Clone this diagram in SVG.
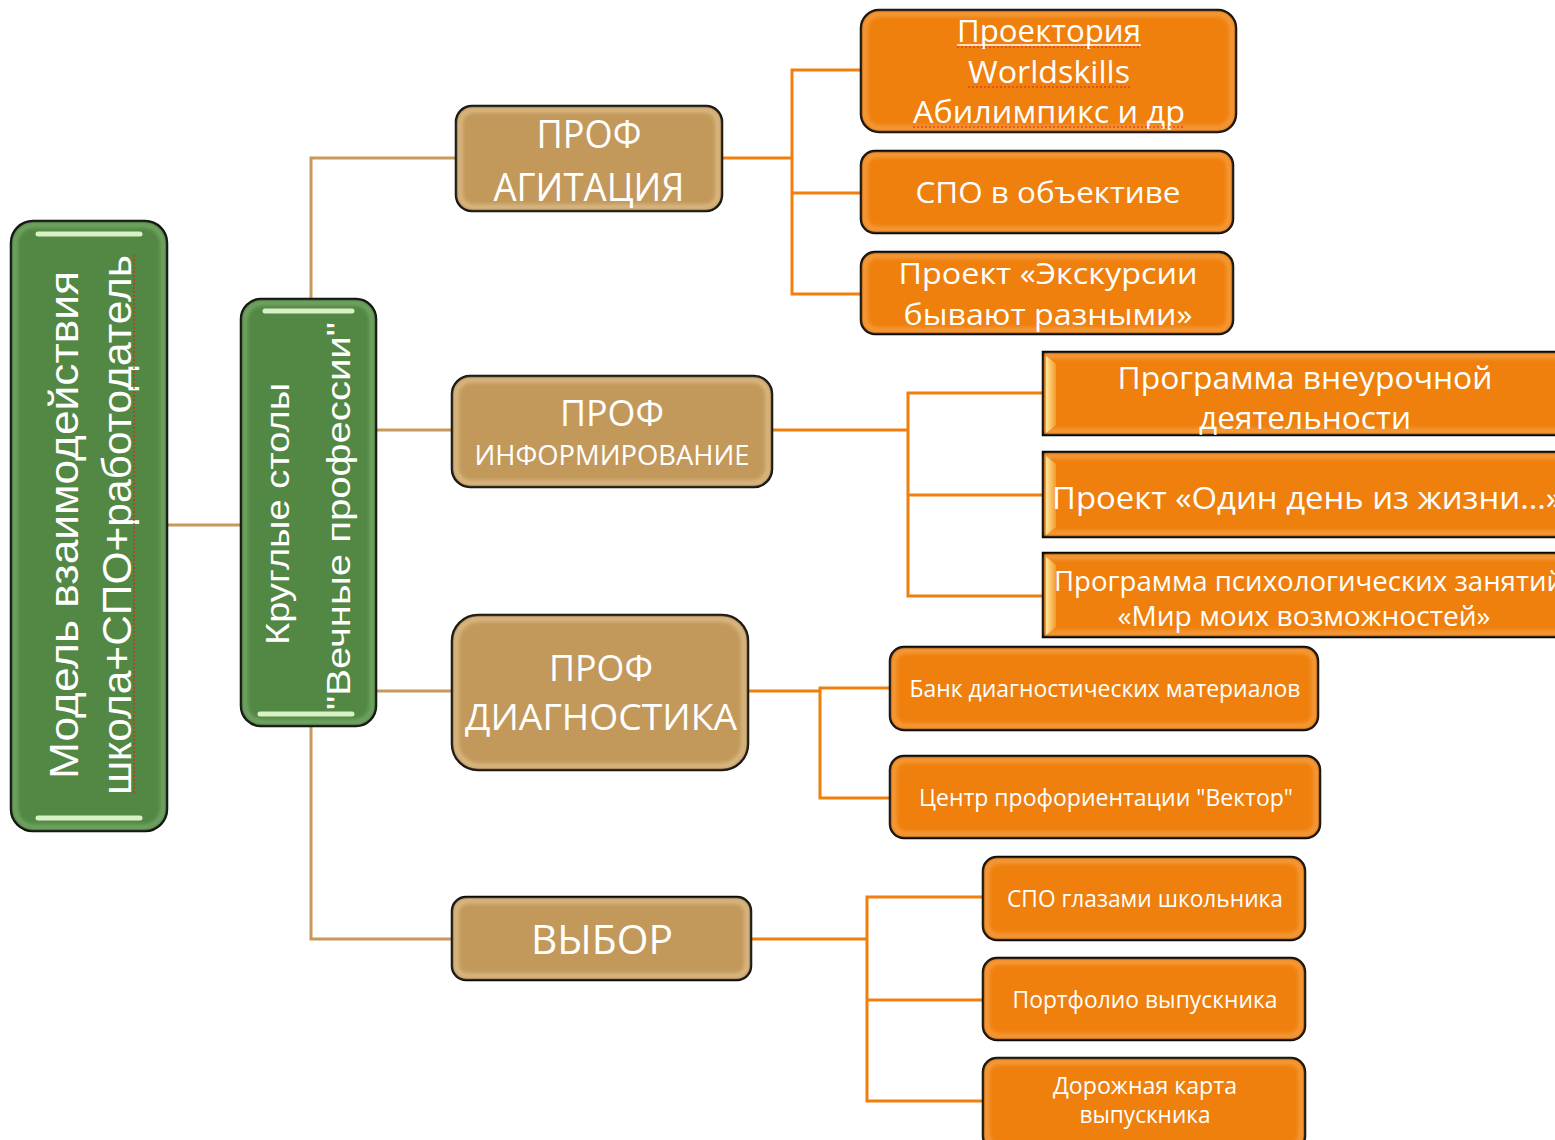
<svg xmlns="http://www.w3.org/2000/svg" width="1555" height="1140" viewBox="0 0 1555 1140">
<style>
.t{font-family:"Open Sans","Noto Sans","Liberation Sans",sans-serif;fill:#fff;text-anchor:middle}
.a{font-family:"Liberation Sans",Arial,sans-serif;fill:#fff;text-anchor:middle}
.green{fill:#528744;stroke:#0a0a0a;stroke-width:2.5}
.tan{fill:#C2995B;stroke:#0a0a0a;stroke-width:2.5}
.org{fill:#EF800D;stroke:#0a0a0a;stroke-width:2.5}
.gin{fill:none;stroke:#8fc080;stroke-width:4;opacity:.7}
.tin{fill:none;stroke:#efd4a6;stroke-width:4;opacity:.7}
.oin{fill:none;stroke:#f9b064;stroke-width:4;opacity:.7}
.hv{stroke:url(#hl);stroke-width:5;stroke-linecap:round}
.hg{stroke:#d8f2c6;stroke-width:5;stroke-linecap:round}
.ct{fill:none;stroke:#C8995A;stroke-width:3}
.co{fill:none;stroke:#F07F0E;stroke-width:3}
.sp{stroke:#e02020;stroke-width:1.2;stroke-dasharray:2 2}
</style>
<defs>
<linearGradient id="hl" x1="0" y1="0" x2="0" y2="1">
<stop offset="0" stop-color="#fffbe0"/><stop offset="0.5" stop-color="#fff1a0"/><stop offset="1" stop-color="#fffbe0"/>
</linearGradient>
<linearGradient id="bev" x1="0" y1="0" x2="1" y2="0">
<stop offset="0" stop-color="#ffe69a"/><stop offset="1" stop-color="#f59a2a"/>
</linearGradient>
<filter id="blur" x="-5%" y="-5%" width="110%" height="110%"><feGaussianBlur stdDeviation="2"/></filter>
</defs>

<g id="connectors">
<path class="ct" d="M167,525 H241" stroke-width="4"/>
<path class="ct" d="M311,299 V158 H456"/>
<path class="ct" d="M376,430 H452"/>
<path class="ct" d="M376,691 H452"/>
<path class="ct" d="M311,726 V939 H452"/>
<path class="co" d="M722,158 H792" stroke-width="4"/>
<path class="co" d="M861,70 H792 V294 H861"/>
<path class="co" d="M792,193 H861"/>
<path class="co" d="M772,430 H908" stroke-width="4"/>
<path class="co" d="M1043,393 H908 V596 H1043"/>
<path class="co" d="M908,495 H1043"/>
<path class="co" d="M748,691 H820" stroke-width="4"/>
<path class="co" d="M890,688 H820 V798 H890"/>
<path class="co" d="M751,939 H867" stroke-width="4"/>
<path class="co" d="M983,897 H867 V1101 H983"/>
<path class="co" d="M867,1000 H983"/>
</g>

<g id="model">
<rect class="green" x="11" y="221" width="156" height="610" rx="22"/>
<rect class="gin" x="15" y="225" width="148" height="602" rx="19" filter="url(#blur)"/>
<line class="hg" x1="38" y1="234" x2="140" y2="234"/>
<line class="hg" x1="38" y1="818" x2="140" y2="818"/>
<text class="a" font-size="40" transform="translate(78,525) rotate(-90)" textLength="508" lengthAdjust="spacingAndGlyphs">Модель взаимодействия</text>
<text class="a" font-size="40" transform="translate(131,525) rotate(-90)" textLength="540" lengthAdjust="spacingAndGlyphs">школа+СПО+работодатель</text>
<line class="sp" x1="134" y1="255" x2="134" y2="795"/>
</g>

<g id="round-tables">
<rect class="green" x="241" y="299" width="135" height="427" rx="20"/>
<rect class="gin" x="245" y="303" width="127" height="419" rx="17" filter="url(#blur)"/>
<line class="hg" x1="265" y1="311" x2="352" y2="311"/>
<line class="hg" x1="260" y1="714" x2="352" y2="714"/>
<text class="a" font-size="34" transform="translate(289,514) rotate(-90)" textLength="262" lengthAdjust="spacingAndGlyphs">Круглые столы</text>
<text class="a" font-size="34" transform="translate(350,516) rotate(-90)" textLength="388" lengthAdjust="spacingAndGlyphs">"Вечные профессии"</text>
</g>

<g id="prof-agitation">
<rect class="tan" x="456" y="106" width="266" height="105" rx="16"/>
<rect class="tin" x="460" y="110" width="258" height="97" rx="13" filter="url(#blur)"/>
<line class="hv" x1="467" y1="122" x2="467" y2="196"/>
<line class="hv" x1="710" y1="125" x2="710" y2="196"/>
<text class="t" x="589" y="148" font-size="38" textLength="105" lengthAdjust="spacingAndGlyphs">ПРОФ</text>
<text class="t" x="589" y="201" font-size="38" textLength="191" lengthAdjust="spacingAndGlyphs">АГИТАЦИЯ</text>
</g>

<g id="prof-inform">
<rect class="tan" x="452" y="376" width="320" height="111" rx="18"/>
<rect class="tin" x="456" y="380" width="312" height="103" rx="15" filter="url(#blur)"/>
<line class="hv" x1="464" y1="394" x2="464" y2="470"/>
<line class="hv" x1="760" y1="396" x2="760" y2="470"/>
<text class="t" x="612" y="426" font-size="36" textLength="104" lengthAdjust="spacingAndGlyphs">ПРОФ</text>
<text class="t" x="612" y="465" font-size="27" textLength="275" lengthAdjust="spacingAndGlyphs">ИНФОРМИРОВАНИЕ</text>
</g>

<g id="prof-diag">
<rect class="tan" x="452" y="615" width="296" height="155" rx="26"/>
<rect class="tin" x="456" y="619" width="288" height="147" rx="23" filter="url(#blur)"/>
<line class="hv" x1="464" y1="636" x2="464" y2="752"/>
<line class="hv" x1="736" y1="640" x2="736" y2="752"/>
<text class="t" x="601" y="681" font-size="36" textLength="104" lengthAdjust="spacingAndGlyphs">ПРОФ</text>
<text class="t" x="601" y="730" font-size="37" textLength="272" lengthAdjust="spacingAndGlyphs">ДИАГНОСТИКА</text>
</g>

<g id="choice">
<rect class="tan" x="452" y="897" width="299" height="83" rx="14"/>
<rect class="tin" x="456" y="901" width="291" height="75" rx="11" filter="url(#blur)"/>
<line class="hv" x1="463" y1="910" x2="463" y2="965"/>
<line class="hv" x1="739" y1="913" x2="739" y2="967"/>
<text class="t" x="602" y="954" font-size="40" textLength="142" lengthAdjust="spacingAndGlyphs">ВЫБОР</text>
</g>

<g id="proektoria">
<rect class="org" x="861" y="10" width="375" height="122" rx="18"/>
<rect class="oin" x="865" y="14" width="367" height="114" rx="15" filter="url(#blur)"/>
<line class="hv" x1="872" y1="28" x2="872" y2="115"/>
<line class="hv" x1="1224" y1="32" x2="1224" y2="117"/>
<text class="t" x="1049" y="42" font-size="31" textLength="184" lengthAdjust="spacingAndGlyphs">Проектория</text>
<text class="t" x="1049" y="83" font-size="31" textLength="162" lengthAdjust="spacingAndGlyphs">Worldskills</text>
<text class="t" x="1049" y="123" font-size="31" textLength="272" lengthAdjust="spacingAndGlyphs">Абилимпикс и др</text>
<line x1="957" y1="45" x2="1141" y2="45" stroke="#fff" stroke-width="1.5"/>
<line class="sp" x1="957" y1="47" x2="1141" y2="47"/>
<line class="sp" x1="968" y1="87" x2="1130" y2="87"/>
<line class="sp" x1="913" y1="127" x2="1185" y2="127"/>
</g>

<g id="spo-objective">
<rect class="org" x="861" y="151" width="372" height="82" rx="14"/>
<rect class="oin" x="865" y="155" width="364" height="74" rx="11" filter="url(#blur)"/>
<line class="hv" x1="872" y1="165" x2="872" y2="219"/>
<line class="hv" x1="1221" y1="168" x2="1221" y2="220"/>
<text class="t" x="1048" y="203" font-size="30" textLength="265" lengthAdjust="spacingAndGlyphs">СПО в объективе</text>
</g>

<g id="excursions">
<rect class="org" x="861" y="252" width="372" height="82" rx="14"/>
<rect class="oin" x="865" y="256" width="364" height="74" rx="11" filter="url(#blur)"/>
<line class="hv" x1="872" y1="266" x2="872" y2="320"/>
<line class="hv" x1="1221" y1="269" x2="1221" y2="321"/>
<text class="t" x="1048" y="284" font-size="30" textLength="299" lengthAdjust="spacingAndGlyphs">Проект «Экскурсии</text>
<text class="t" x="1048" y="325" font-size="30" textLength="289" lengthAdjust="spacingAndGlyphs">бывают разными»</text>
</g>

<g id="extracurricular">
<rect class="org" x="1043" y="352" width="530" height="83"/>
<rect class="oin" x="1047" y="356" width="522" height="75" filter="url(#blur)"/>
<path d="M1046,356 L1056,364 V425 L1046,433 Z" fill="url(#bev)"/>
<text class="t" x="1305" y="389" font-size="31" textLength="375" lengthAdjust="spacingAndGlyphs">Программа внеурочной</text>
<text class="t" x="1305" y="429" font-size="31" textLength="212" lengthAdjust="spacingAndGlyphs">деятельности</text>
</g>

<g id="one-day">
<rect class="org" x="1043" y="452" width="530" height="85"/>
<rect class="oin" x="1047" y="456" width="522" height="77" filter="url(#blur)"/>
<path d="M1046,456 L1056,464 V527 L1046,535 Z" fill="url(#bev)"/>
<text class="t" x="1052" y="509" font-size="31" style="text-anchor:start" textLength="510" lengthAdjust="spacingAndGlyphs">Проект «Один день из жизни…»</text>
</g>

<g id="psych">
<rect class="org" x="1043" y="553" width="530" height="84"/>
<rect class="oin" x="1047" y="557" width="522" height="76" filter="url(#blur)"/>
<path d="M1046,557 L1056,565 V627 L1046,635 Z" fill="url(#bev)"/>
<text class="t" x="1054" y="591" font-size="27" style="text-anchor:start" textLength="510" lengthAdjust="spacingAndGlyphs">Программа психологических занятий</text>
<text class="t" x="1304" y="626" font-size="27" textLength="373" lengthAdjust="spacingAndGlyphs">«Мир моих возможностей»</text>
</g>

<g id="diag-bank">
<rect class="org" x="890" y="647" width="428" height="83" rx="14"/>
<rect class="oin" x="894" y="651" width="420" height="75" rx="11" filter="url(#blur)"/>
<line class="hv" x1="900" y1="662" x2="900" y2="712"/>
<line class="hv" x1="1307" y1="664" x2="1307" y2="716"/>
<text class="t" x="1105" y="697" font-size="23" textLength="391" lengthAdjust="spacingAndGlyphs">Банк диагностических материалов</text>
</g>

<g id="vector">
<rect class="org" x="890" y="756" width="430" height="82" rx="14"/>
<rect class="oin" x="894" y="760" width="422" height="74" rx="11" filter="url(#blur)"/>
<line class="hv" x1="900" y1="771" x2="900" y2="822"/>
<line class="hv" x1="1308" y1="772" x2="1308" y2="825"/>
<text class="t" x="1106" y="806" font-size="23" textLength="374" lengthAdjust="spacingAndGlyphs">Центр профориентации "Вектор"</text>
</g>

<g id="spo-eyes">
<rect class="org" x="983" y="857" width="322" height="83" rx="14"/>
<rect class="oin" x="987" y="861" width="314" height="75" rx="11" filter="url(#blur)"/>
<line class="hv" x1="995" y1="872" x2="995" y2="925"/>
<line class="hv" x1="1294" y1="872" x2="1294" y2="928"/>
<text class="t" x="1145" y="907" font-size="23" textLength="276" lengthAdjust="spacingAndGlyphs">СПО глазами школьника</text>
</g>

<g id="portfolio">
<rect class="org" x="983" y="958" width="322" height="82" rx="14"/>
<rect class="oin" x="987" y="962" width="314" height="74" rx="11" filter="url(#blur)"/>
<line class="hv" x1="995" y1="973" x2="995" y2="1026"/>
<line class="hv" x1="1294" y1="973" x2="1294" y2="1028"/>
<text class="t" x="1145" y="1008" font-size="23" textLength="265" lengthAdjust="spacingAndGlyphs">Портфолио выпускника</text>
</g>

<g id="roadmap">
<rect class="org" x="983" y="1058" width="322" height="92" rx="14"/>
<rect class="oin" x="987" y="1062" width="314" height="84" rx="11" filter="url(#blur)"/>
<line class="hv" x1="995" y1="1073" x2="995" y2="1130"/>
<line class="hv" x1="1294" y1="1073" x2="1294" y2="1132"/>
<text class="t" x="1145" y="1094" font-size="23" textLength="184" lengthAdjust="spacingAndGlyphs">Дорожная карта</text>
<text class="t" x="1145" y="1123" font-size="23" textLength="131" lengthAdjust="spacingAndGlyphs">выпускника</text>
</g>
</svg>
